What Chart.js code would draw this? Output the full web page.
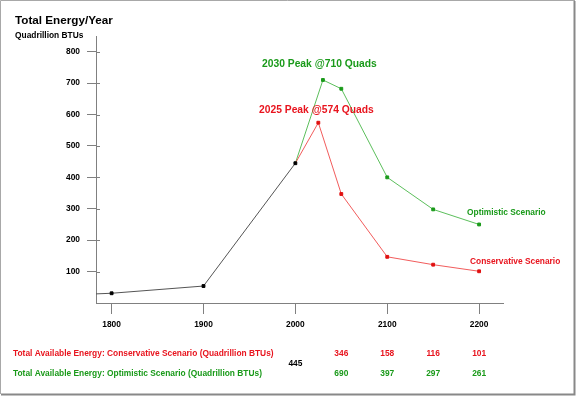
<!DOCTYPE html>
<html>
<head>
<meta charset="utf-8">
<script src="https://cdn.jsdelivr.net/npm/chart.js@4.4.0/dist/chart.umd.min.js"></script>
<style>
  html, body { margin: 0; padding: 0; background: #fff; }
  canvas { display: block; }
</style>
</head>
<body>
<canvas id="energy" width="577" height="397"></canvas>
<script>
// values
const historyYears = [1783, 1800, 1900, 2000];
const historyValues = [29, 31, 54, 445];
const conservativeYears = [2000, 2025, 2050, 2100, 2150, 2200];
const conservativeValues = [445, 574, 347, 147, 122, 101];
const optimisticYears = [2000, 2030, 2050, 2100, 2150, 2200];
const optimisticValues = [445, 710, 682, 400, 298, 250];

const xTicks = [1800, 1900, 2000, 2100, 2200];
const yTicks = [100, 200, 300, 400, 500, 600, 700, 800];

// the little table under the chart
const tableYears = [2050, 2100, 2150, 2200];
const conservativeTable = [346, 158, 116, 101];
const optimisticTable = [690, 397, 297, 261];
const sharedYear = 2000;
const sharedValue = 445;

const GREEN_TEXT = '#1a9a1a';
const GREEN_LINE = '#5cbf5c';
const RED_TEXT = '#e8141e';
const RED_LINE = '#f25c5c';
const FONT = '"Liberation Sans", Arial, sans-serif';

const toPoints = (xs, ys) => xs.map((x, i) => ({ x, y: ys[i] }));

const decorations = {
  id: 'decorations',
  afterDraw(chart) {
    const { ctx, scales: { x, y } } = chart;
    ctx.save();

    // inner half of the y tick marks
    ctx.strokeStyle = '#808080';
    ctx.lineWidth = 1;
    yTicks.forEach(v => {
      const py = Math.round(y.getPixelForValue(v)) + 0.5;
      ctx.beginPath();
      ctx.moveTo(96, py);
      ctx.lineTo(100, py);
      ctx.stroke();
    });

    const text = (str, px, py, color, size, align) => {
      ctx.font = `bold ${size}px ${FONT}`;
      ctx.fillStyle = color;
      ctx.textAlign = align || 'left';
      ctx.textBaseline = 'alphabetic';
      ctx.fillText(str, px, py);
    };

    text('Total Energy/Year', 15, 24, '#000', 11.7);
    text('Quadrillion BTUs', 15, 38, '#000', 8.4);

    text('2030 Peak @710 Quads', 262, 67, GREEN_TEXT, 10.3);
    text('2025 Peak @574 Quads', 259, 112.5, RED_TEXT, 10.3);
    text('Optimistic Scenario', 467, 214.5, GREEN_TEXT, 8.4);
    text('Conservative Scenario', 470, 264, RED_TEXT, 8.4);

    text('Total Available Energy: Conservative Scenario (Quadrillion BTUs)', 13, 356, RED_TEXT, 8.4);
    text('Total Available Energy: Optimistic Scenario (Quadrillion BTUs)', 13, 375.5, GREEN_TEXT, 8.4);
    text(String(sharedValue), x.getPixelForValue(sharedYear), 366, '#000', 8.4, 'center');
    tableYears.forEach((yr, i) => {
      const px = x.getPixelForValue(yr);
      text(String(conservativeTable[i]), px, 356, RED_TEXT, 8.4, 'center');
      text(String(optimisticTable[i]), px, 375.5, GREEN_TEXT, 8.4, 'center');
    });

    // frame
    ctx.strokeStyle = '#a8a8a8';
    ctx.beginPath();
    ctx.moveTo(0.5, 394); ctx.lineTo(0.5, 0.5); ctx.lineTo(575, 0.5);
    ctx.stroke();
    ctx.strokeStyle = '#888';
    ctx.lineWidth = 2;
    ctx.beginPath();
    ctx.moveTo(574.5, 1); ctx.lineTo(574.5, 394.5); ctx.lineTo(1, 394.5);
    ctx.stroke();

    ctx.restore();
  }
};

const whiteBg = {
  id: 'whiteBg',
  beforeDraw(chart) {
    const { ctx, width, height } = chart;
    ctx.save();
    ctx.fillStyle = '#fff';
    ctx.fillRect(0, 0, width, height);
    ctx.restore();
  }
};

new Chart(document.getElementById('energy'), {
  type: 'line',
  data: {
    datasets: [
      {
        label: 'History',
        data: toPoints(historyYears, historyValues),
        borderColor: '#555',
        backgroundColor: '#000',
        pointBorderColor: '#000',
        borderWidth: 1,
        pointStyle: 'rect',
        pointRadius: [0, 2, 2, 2],
        pointBorderWidth: 1
      },
      {
        label: 'Conservative Scenario',
        data: toPoints(conservativeYears, conservativeValues),
        borderColor: RED_LINE,
        backgroundColor: '#e01010',
        pointBorderColor: '#e01010',
        borderWidth: 1,
        pointStyle: 'rect',
        pointRadius: [0, 2, 2, 2, 2, 2],
        pointBorderWidth: 1
      },
      {
        label: 'Optimistic Scenario',
        data: toPoints(optimisticYears, optimisticValues),
        borderColor: GREEN_LINE,
        backgroundColor: GREEN_TEXT,
        pointBorderColor: GREEN_TEXT,
        borderWidth: 1,
        pointStyle: 'rect',
        pointRadius: [0, 2, 2, 2, 2, 2],
        pointBorderWidth: 1
      }
    ]
  },
  options: {
    responsive: false,
    animation: false,
    events: [],
    layout: { padding: { top: 36, right: 74, left: 0, bottom: 0 } },
    plugins: {
      legend: { display: false },
      title: { display: false },
      tooltip: { enabled: false }
    },
    scales: {
      x: {
        type: 'linear',
        min: 1783,
        max: 2226,
        afterFit: s => { s.height = 94; },
        afterBuildTicks: s => { s.ticks = xTicks.map(value => ({ value })); },
        grid: { drawOnChartArea: false, drawTicks: true, tickLength: 11, color: '#808080' },
        border: { color: '#808080', width: 1 },
        ticks: {
          color: '#000',
          padding: 6,
          maxRotation: 0,
          font: { family: FONT, size: 8.4, weight: 'bold' },
          callback: v => String(v)
        }
      },
      y: {
        min: 0,
        max: 850,
        afterFit: s => { s.width = 96; },
        afterBuildTicks: s => { s.ticks = yTicks.map(value => ({ value })); },
        grid: { drawOnChartArea: false, drawTicks: true, tickLength: 9, color: '#808080' },
        border: { color: '#808080', width: 1 },
        ticks: {
          color: '#000',
          padding: 7,
          font: { family: FONT, size: 8.4, weight: 'bold' }
        }
      }
    }
  },
  plugins: [whiteBg, decorations]
});
</script>
</body>
</html>
